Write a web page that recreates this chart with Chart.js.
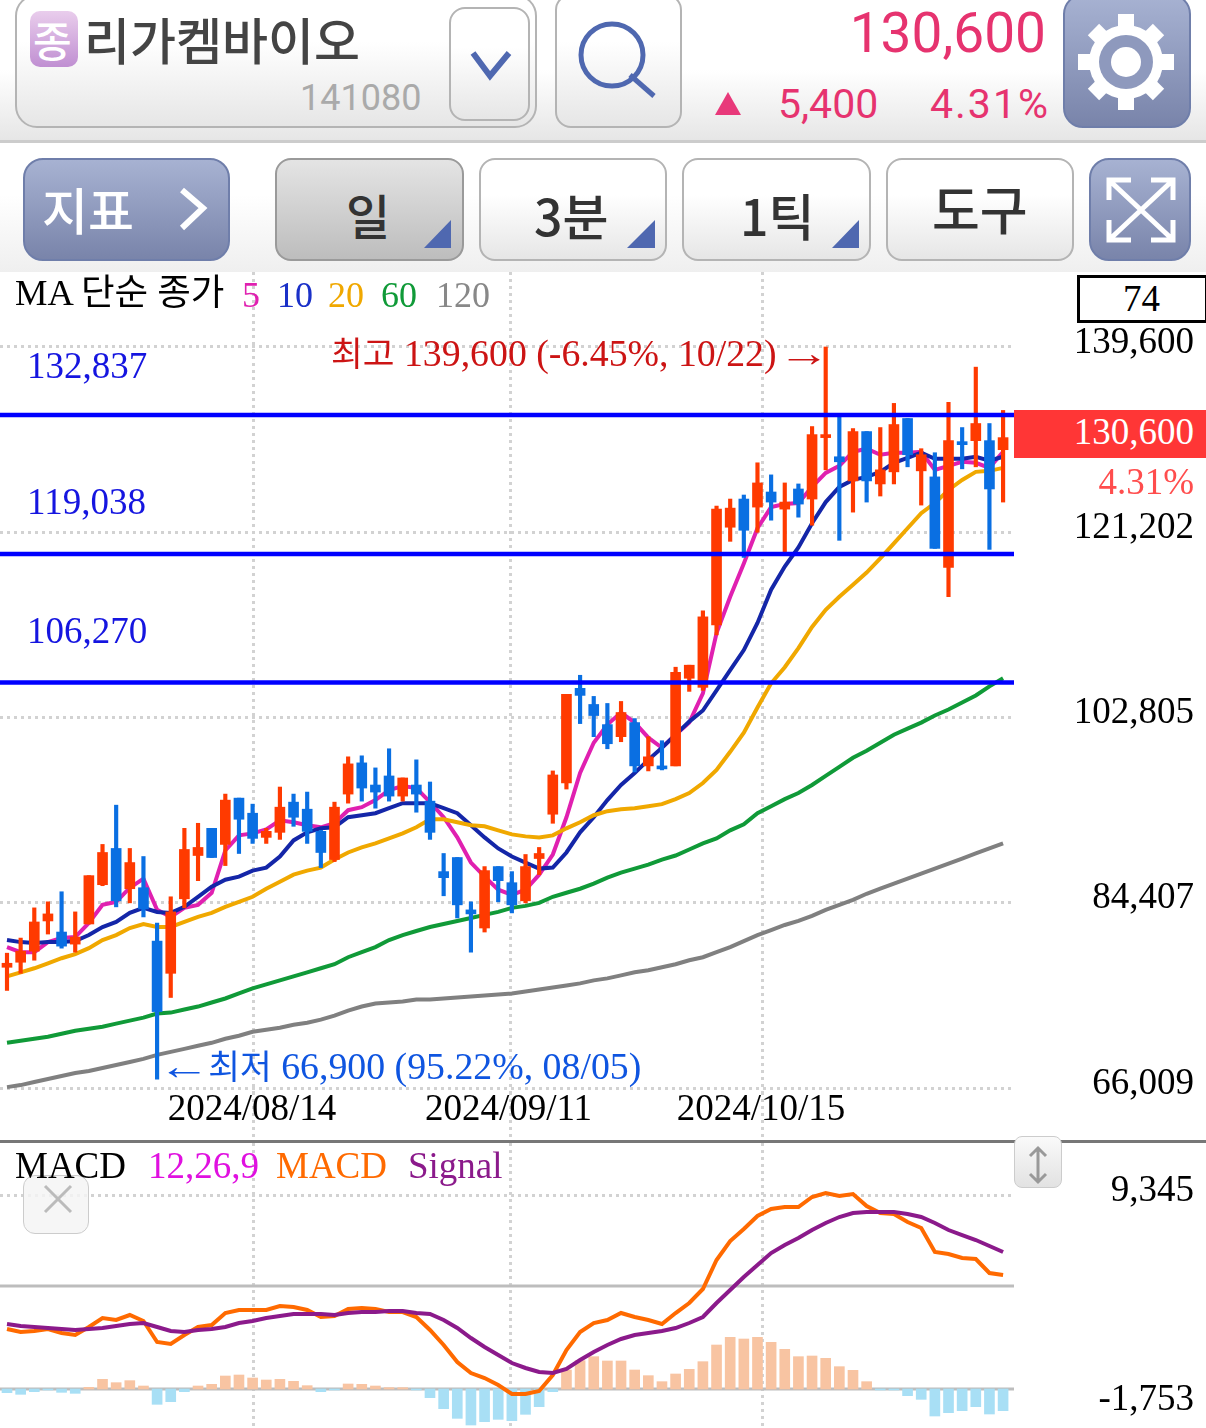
<!DOCTYPE html>
<html lang="ko"><head><meta charset="utf-8">
<script src="https://cdn.jsdelivr.net/npm/chart.js@4/dist/chart.umd.js"></script>
<style>
html,body{margin:0;padding:0;background:#fff;width:1206px;height:1428px;overflow:hidden}
#root{position:relative;width:1206px;height:1428px;overflow:hidden}
.abs{position:absolute;box-sizing:border-box}
.t{position:absolute;white-space:nowrap;transform:translateY(-50%);line-height:1}
.s{font-family:"Liberation Serif","Noto Sans CJK KR",serif;font-size:37px}
.a{font-size:37.8px}
.a b{font-weight:400;font-size:34.5px}
.a i{font-style:normal;display:inline-block;transform:scaleX(1.38)}
.k{font-family:"Noto Sans CJK KR","Noto Sans",sans-serif}
.r{font-family:Roboto,"Noto Sans",sans-serif}
.btn{border:2px solid #b4b4b4;border-radius:16px;background:linear-gradient(#fff 35%,#e6e6e6)}
.blue{border:2px solid #6f7eaa;border-radius:20px;background:linear-gradient(#a7b2d2,#7984aa)}
canvas{position:absolute;left:0;display:block}
</style></head><body><div id="root">
<div class="abs" style="left:0;top:0;width:1206px;height:143px;background:linear-gradient(#fff 50%,#e6e6e6);border-bottom:3px solid #ccc"></div>
<div class="abs" style="left:0;top:143px;width:1206px;height:129px;background:linear-gradient(#fff 40%,#efefef)"></div>

<div class="abs btn" style="left:15px;top:-6px;width:522px;height:134px;border-radius:22px"></div>
<div class="abs" style="left:30px;top:11px;width:48px;height:56px;border-radius:10px;background:linear-gradient(#e9cdec,#c08fd2)"></div>
<div class="t k" style="left:33px;top:39px;font-size:42px;color:#fff;font-weight:500">종</div>
<div class="t k" style="left:84px;top:38px;font-size:50px;color:#444;font-weight:500">리가켐바이오</div>
<div class="t r" style="left:300px;top:98px;font-size:36px;color:#aaa">141080</div>
<div class="abs btn" style="left:449px;top:7px;width:81px;height:114px"></div>
<svg class="abs" style="left:0;top:0" width="1206" height="272" fill="none">
 <path d="M473 53 L490 76 L509 53" stroke="#4f68b0" stroke-width="6"/>
</svg>
<div class="abs btn" style="left:555px;top:-6px;width:127px;height:134px"></div>
<svg class="abs" style="left:0;top:0" width="1206" height="272" fill="none">
 <circle cx="612" cy="55" r="31" stroke="#4f68b0" stroke-width="5"/>
 <path d="M630 75 L654 96" stroke="#4f68b0" stroke-width="5"/>
</svg>
<div class="t r" style="right:160px;top:33px;font-size:55px;color:#e6336f">130,600</div>
<svg class="abs" style="left:0;top:0" width="1206" height="142"><path d="M715 115 L728 92 L741 115 Z" fill="#e8397a"/></svg>
<div class="t r" style="left:778px;top:104px;font-size:41px;color:#e6336f">5,400</div>
<div class="t r" style="left:930px;top:104px;font-size:41px;letter-spacing:2px;color:#e6336f">4.31%</div>
<div class="abs blue" style="left:1063px;top:-6px;width:128px;height:134px"></div>
<svg class="abs" style="left:1063px;top:0" width="128" height="128" viewBox="0 0 128 128">
 <g fill="#fff" transform="translate(63 62)">
  <rect x="-8" y="-48" width="16" height="96"/><rect x="-48" y="-8" width="96" height="16"/>
  <rect x="-8" y="-46" width="16" height="92" transform="rotate(45)"/><rect x="-8" y="-46" width="16" height="92" transform="rotate(-45)"/>
  <circle r="37"/></g>
 <circle cx="63" cy="62" r="27" fill="#8e99bd"/><circle cx="63" cy="62" r="15" fill="#fff"/>
</svg>

<div class="abs blue" style="left:23px;top:158px;width:207px;height:103px"></div>
<div class="t k" style="left:42px;top:208px;font-size:50px;color:#fff;font-weight:500">지표</div>
<svg class="abs" style="left:0;top:0" width="1206" height="272" fill="none"><path d="M182 190 L203 208 L182 228" stroke="#fff" stroke-width="6"/></svg>
<div class="abs btn" style="left:275px;top:158px;width:189px;height:103px;background:linear-gradient(#e4e4e4,#bdbdbd);border-color:#9a9a9a"></div>
<div class="abs btn" style="left:479px;top:158px;width:188px;height:103px"></div>
<div class="abs btn" style="left:682px;top:158px;width:189px;height:103px"></div>
<div class="abs btn" style="left:886px;top:158px;width:188px;height:103px"></div>
<div class="t k" style="left:346px;top:214px;font-size:48px;color:#333;font-weight:500">일</div>
<div class="t k" style="left:534px;top:214px;font-size:50px;color:#333;font-weight:500">3분</div>
<div class="t k" style="left:740px;top:214px;font-size:50px;color:#333;font-weight:500">1틱</div>
<div class="t k" style="left:932px;top:208px;font-size:52px;color:#333;font-weight:500">도구</div>
<svg class="abs" style="left:0;top:0" width="1206" height="272">
 <path d="M451 220 V248 H424 Z M655 220 V248 H627 Z M859 220 V248 H832 Z" fill="#4f68b0"/>
</svg>
<div class="abs blue" style="left:1089px;top:158px;width:102px;height:103px"></div>
<svg class="abs" style="left:0;top:0" width="1206" height="272" fill="none" stroke="#fff" stroke-width="5">
 <path d="M1109 200 V180 H1131 M1173 200 V180 H1151 M1109 220 V240 H1131 M1173 220 V240 H1151 M1110 181 L1172 239 M1172 181 L1110 239"/>
</svg>

<canvas id="priceChart" width="1206" height="868" style="top:272px"></canvas>
<div class="abs" style="left:0;top:1140px;width:1206px;height:3px;background:#777"></div>
<canvas id="macdChart" width="1206" height="285" style="top:1143px"></canvas>

<div class="t s" style="left:15px;top:293px;font-size:36.5px;color:#000">MA 단순 종가</div>
<div class="t s" style="left:242px;top:295px;font-size:36px;color:#e020b0">5</div>
<div class="t s" style="left:277px;top:295px;font-size:36px;color:#1a30c8">10</div>
<div class="t s" style="left:328px;top:295px;font-size:36px;color:#f0a800">20</div>
<div class="t s" style="left:381px;top:295px;font-size:36px;color:#109a38">60</div>
<div class="t s" style="left:436px;top:295px;font-size:36px;color:#888">120</div>
<div class="abs" style="left:1077px;top:275px;width:131px;height:48px;border:3px solid #000;background:#fff"></div>
<div class="t s" style="left:1123px;top:298px;color:#000">74</div>

<div class="t s" style="left:27px;top:365px;color:#1515e0">132,837</div>
<div class="t s" style="left:27px;top:501px;color:#1515e0">119,038</div>
<div class="t s" style="left:27px;top:630px;color:#1515e0">106,270</div>
<div class="t s a" style="left:331px;top:354px;color:#cc1414"><b>최고</b> 139,600 (-6.45%, 10/22) <i style="transform-origin:0 50%;margin-left:-8px">→</i></div>
<div class="t s a" style="left:158px;top:1067px;color:#0f55e0"><i style="transform-origin:0 50%;margin-right:3px">←</i> <b>최저</b> 66,900 (95.22%, 08/05)</div>

<div class="abs" style="left:1014px;top:410px;width:192px;height:48px;background:#ff3636"></div>
<div class="t s" style="right:12px;top:431px;color:#fff">130,600</div>
<div class="t s" style="right:12px;top:481px;color:#ff4d4d">4.31%</div>

<div class="abs" style="left:23px;top:1175px;width:66px;height:59px;border:1px solid #ccc;border-radius:12px;background:rgba(245,245,245,.85)"></div>
<svg class="abs" style="left:0;top:1140px" width="120" height="110" fill="none"><path d="M45 46 L71 72 M71 46 L45 72" stroke="#bbb" stroke-width="3"/></svg>
<div class="t s" style="left:15px;top:1165px;color:#000">MACD</div>
<div class="t s" style="left:148px;top:1165px;color:#e010e0">12,26,9</div>
<div class="t s" style="left:276px;top:1165px;color:#ff6a00">MACD</div>
<div class="t s" style="left:408px;top:1165px;color:#8b1a8b">Signal</div>
<div class="abs" style="left:1014px;top:1136px;width:48px;height:52px;border:1px solid #ccc;border-radius:8px;background:linear-gradient(#fafafa,#e2e2e2)"></div>
<svg class="abs" style="left:1014px;top:1140px" width="48" height="50" fill="none" stroke="#999" stroke-width="3"><path d="M24 8 V42 M16 16 L24 8 L32 16 M16 34 L24 42 L32 34"/></svg>
</div>
<script>
const opens=[78000,78500,79600,82600,81500,80300,82300,86200,89800,85800,85900,80600,77400,84800,89100,91800,90200,94800,93300,90900,91400,94400,93700,91500,88700,95200,98300,96100,97000,95000,96100,94500,87500,88900,83700,81900,88000,86400,84600,88800,93200,96300,105700,104100,102100,100900,102300,98000,97900,98000,106700,105800,112000,121700,124500,123700,125200,123500,125500,124500,130600,128700,126300,131200,126000,127200,132500,127300,126700,117700,130200,130300,130300,129400];
const closes=[78400,79600,82500,83300,80100,81000,87100,89400,84600,88400,83800,73600,83500,89700,89900,88900,94600,92700,90800,91500,93900,92900,91500,89400,93900,98200,95800,95400,95000,96800,95200,91400,86900,84200,83300,87600,86600,84200,88000,89300,97100,105100,105000,103000,100200,103300,98000,98900,97700,107300,108000,112800,123500,123600,121400,126100,124200,124200,124000,130900,130900,128200,131200,126300,127400,131900,128900,128900,119600,130300,129900,132000,125500,130600];
const highs=[79400,80900,83900,84500,85500,83500,87100,90200,94100,89800,89000,82400,85000,91800,92300,91800,95200,94800,94200,91800,95900,95200,95400,91600,94400,98900,99000,97800,99700,96800,98600,96400,89300,88900,84500,88000,88000,87500,89200,89900,97500,105100,107000,104900,104200,104400,102700,100900,100500,107800,108000,113400,123800,124500,124900,128100,126900,126100,126000,131700,139600,132800,131500,131200,131600,134000,132500,129500,129100,134100,131600,137600,132000,133300];
const lows=[75700,77400,78700,81300,79900,79500,82300,86100,84000,84400,83000,66900,75000,83900,86600,88900,88100,89300,90300,90300,90700,92000,90300,87900,88500,94300,94500,93800,94500,94500,93400,90700,85100,82900,79500,81500,84500,83400,84400,87200,92300,95700,102200,100900,99700,100400,97400,97500,97600,98000,105400,105500,111000,120300,118700,121200,122400,119200,122700,121900,127400,120400,123200,124200,124800,126000,127700,123900,119600,114800,127500,127700,119500,124200];
const ma5=[80000,79500,79500,80500,80900,81000,82400,84200,84500,85900,86800,83700,83000,83900,84200,85400,89600,91100,91300,91700,92600,92400,92100,91900,92300,93600,93900,94600,95600,96000,95800,94400,92900,90900,88400,87000,85700,85200,85700,87200,89200,92900,97300,100300,102100,103300,102300,100800,99800,101100,102300,105200,111200,114800,118100,121600,123700,124000,124100,125700,127100,127800,129200,129500,128900,129100,129100,129200,127400,127800,128200,128100,127600,129200];
const ma10=[80700,80500,80400,80500,80500,80600,81200,82000,82500,83400,83900,83500,83400,84000,85000,86000,86700,87000,87600,87900,89000,90600,91400,91800,91900,92900,93100,93300,93800,94300,94300,94300,93800,93300,92100,90900,89800,89000,88400,87800,87900,89400,91400,92900,94600,96100,97300,98600,99800,101100,102400,103500,105500,107500,109500,112200,115500,117800,119700,122100,124200,125700,126400,126700,127200,128100,128600,129100,128500,128500,128500,128700,128300,128700];
const ma20=[77100,77500,77900,78400,78900,79300,79900,80700,81200,81900,82300,82000,82000,82500,83000,83400,84000,84500,85000,85800,86500,87200,87600,87900,88700,89400,89900,90300,90800,91300,91900,92700,92700,92400,92100,92000,91600,91200,91000,90900,91100,91800,92400,93100,93500,93700,93800,94000,94200,94700,95300,96300,97600,99400,101300,103800,106200,107800,109700,111800,113500,114800,116000,117200,118600,120100,121600,123100,124100,125400,126400,127200,127300,127600];
const ma60=[70500,70700,70900,71100,71400,71700,71900,72100,72400,72700,73000,73400,73500,73800,74100,74500,74900,75400,75900,76300,76700,77100,77500,77900,78300,79000,79500,80000,80700,81200,81600,82000,82300,82600,82900,83200,83500,83900,84100,84400,85000,85400,85800,86300,86900,87400,87800,88200,88700,89100,89700,90300,90800,91600,92200,93300,94000,94700,95300,96100,97000,97900,98800,99500,100300,101100,101700,102300,103000,103600,104300,105000,105900,106700];
const ma120=[66100,66300,66600,66900,67200,67500,67700,68000,68300,68600,68900,69300,69600,69900,70200,70500,70900,71200,71600,71800,72000,72300,72500,72800,73200,73700,74100,74400,74500,74600,74800,74800,74900,75000,75100,75200,75300,75400,75600,75800,76000,76200,76400,76700,76900,77200,77500,77700,78000,78300,78700,79000,79500,80000,80600,81200,81700,82200,82600,83100,83700,84200,84700,85300,85800,86300,86800,87300,87800,88300,88800,89300,89800,90300];
const levels=[132837,119038,106270];
const priceTicks=[139600,121202,102805,84407,66009];
const macdLine=[2230,2070,2123,2230,2017,1911,2336,2814,2708,2973,2654,1539,1433,1911,2336,2442,3079,3239,3239,3239,3451,3398,3239,2867,2920,3292,3345,3292,3132,3132,2867,2176,1380,477,-107,-372,-744,-1222,-1222,-1063,-213,1114,2070,2548,2708,3079,2867,2708,2495,3079,3610,4354,5893,6903,7540,8230,8602,8708,8708,9239,9451,9292,9398,8761,8389,8336,7911,7593,6318,6212,6000,5947,5203,5097];
const signalLine=[2495,2389,2336,2283,2230,2176,2230,2283,2389,2495,2548,2336,2123,2070,2176,2230,2336,2548,2654,2814,2920,3026,3026,3026,2973,3079,3132,3132,3186,3186,3079,3026,2708,2283,1752,1274,849,424,159,-54,-107,106,583,1008,1380,1699,1911,2017,2123,2283,2548,2867,3610,4301,4991,5628,6265,6690,7062,7487,7858,8177,8389,8442,8442,8442,8336,8177,7858,7487,7221,6956,6637,6318];
const histogram=[-195,-283,-142,-53,-177,-230,89,513,336,443,159,-814,-673,-142,159,248,690,743,584,478,513,407,177,-142,-53,266,248,159,71,71,-53,-460,-1044,-1558,-1912,-1735,-1611,-1682,-1345,-938,-142,1009,1505,1717,1487,1487,1009,708,389,797,1044,1451,2336,2744,2655,2744,2478,2106,1717,1752,1628,1186,991,389,-53,-53,-354,-549,-1434,-1257,-1151,-938,-1328,-1151];
const macdTicks=[9345,-1753];
const macdMid=4513;
const dateTicks=[18.1,36.9,55.4];
const dateLabels=['2024/08/14','2024/09/11','2024/10/15'];

const XMIN=-0.513,XMAX=73.8;
const idx=a=>a.map((v,i)=>({x:i,y:v}));
const GRID='#d2d2d2',SERIF='"Liberation Serif"';
const up='#ff3a00',down='#0a6fe2';
const candleCol=opens.map((o,i)=>closes[i]>=o?up:down);
const hline=(v,color,w,order,axis)=>({type:'line',data:[{x:XMIN,y:v},{x:XMAX,y:v}],borderColor:color,borderWidth:w,pointRadius:0,order,yAxisID:axis||'y'});
const ma=(a,color,order)=>({type:'line',data:idx(a),borderColor:color,borderWidth:4,pointRadius:0,tension:0,order});
const noPad=s=>{s.paddingTop=0;s.paddingBottom=0;s.paddingLeft=0;s.paddingRight=0};

function xAxis(h,labels){return {type:'linear',offset:false,min:XMIN,max:XMAX,
  afterBuildTicks:s=>{s.ticks=dateTicks.map(v=>({value:v}))},
  afterFit:s=>{s.height=h;noPad(s)},
  grid:{offset:false,color:GRID,lineWidth:3,tickLength:h,tickColor:GRID,tickWidth:3,tickBorderDash:[3,4],drawTicks:h>0},
  border:{display:false,dash:[3,4]},
  ticks:labels?{autoSkip:false,maxRotation:0,minRotation:0,padding:-52,labelOffset:-2,color:'#000',font:{family:SERIF,size:37},callback:(v,i)=>dateLabels[i]}:{display:false}
}}
function yAxis(min,max,ticks,hideLast){return {type:'linear',position:'right',min,max,
  afterBuildTicks:s=>{s.ticks=ticks.map(v=>({value:v}))},
  afterFit:s=>{s.width=180;noPad(s)},
  grid:{drawTicks:false,lineWidth:3,color:c=>hideLast&&c.tick&&c.tick.value<0?'transparent':GRID},
  border:{display:false,dash:[3,4]},
  ticks:{autoSkip:false,crossAlign:'far',padding:0,labelOffset:-4,color:'#000',font:{family:SERIF,size:37},
    callback:v=>Number(v).toLocaleString('en-US')}
}}
const base={responsive:false,maintainAspectRatio:false,animation:false,devicePixelRatio:1,
  layout:{padding:{left:0,right:12,top:0,bottom:0}},
  plugins:{legend:{display:false},tooltip:{enabled:false}}};

new Chart(document.getElementById('priceChart'),{type:'bar',data:{datasets:[
  ...levels.map(v=>hline(v,'#0000ff',4.5,0)),
  {type:'bar',data:opens.map((o,i)=>({x:i,y:[o,closes[i]]})),backgroundColor:candleCol,barThickness:10,minBarLength:3,grouped:false,order:1},
  {type:'bar',data:lows.map((l,i)=>({x:i,y:[l,highs[i]]})),backgroundColor:candleCol,barThickness:3.5,grouped:false,order:2},
  ma(ma5,'#e020b0',7),ma(ma10,'#1426a8',6),ma(ma20,'#f0a800',5),ma(ma60,'#109a38',4),ma(ma120,'#808080',3)
]},options:{...base,scales:{x:xAxis(48,true),y:yAxis(65614,147048,priceTicks)}}});

new Chart(document.getElementById('macdChart'),{type:'bar',data:{datasets:[
  {type:'line',data:idx(macdLine),borderColor:'#ff6a00',borderWidth:4,pointRadius:0,tension:0,order:2},
  {type:'line',data:idx(signalLine),borderColor:'#8b1a8b',borderWidth:4,pointRadius:0,tension:0,order:1},
  hline(macdMid,'#bdbdbd',3,6),
  {type:'bar',data:idx(histogram),yAxisID:'yH',backgroundColor:histogram.map(v=>v>=0?'#f8c4a2':'#a8dff5'),barThickness:10,grouped:false,order:4},
  hline(0,'#bdbdbd',3,5,'yH')
]},options:{...base,scales:{x:xAxis(0,false),y:yAxis(-3027,12107,macdTicks,true),
  yH:{type:'linear',display:false,min:-2071,max:13063}}}});
</script></body></html>
